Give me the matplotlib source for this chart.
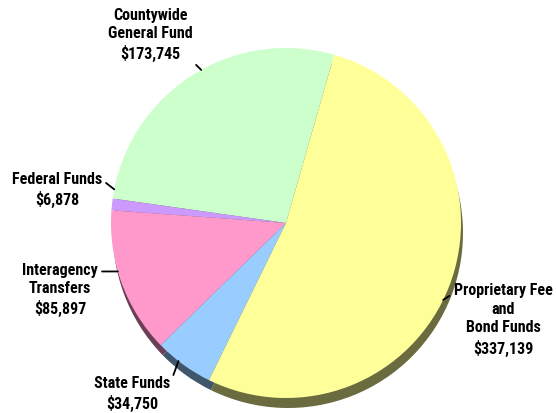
import numpy as np
import matplotlib
matplotlib.use('Agg')
import matplotlib.pyplot as plt
from matplotlib.colors import to_rgb

# Funding sources (in thousands), counter-clockwise from the top
sources = ['Countywide\nGeneral Fund', 'Federal Funds', 'Interagency\nTransfers',
           'State Funds', 'Proprietary Fee\nand\nBond Funds']
amounts = [173745, 6878, 85897, 34750, 337139]
colors = ['#ccffcc', '#cc99ff', '#ff99cc', '#99ccff', '#ffff99']

# label placement in pixels (x, y from top), where the leader leaves the text,
# and a small angle nudge (deg) of where it touches the pie
label_pos = [(150, 35), (57, 190), (60, 290), (132, 394), (503, 320)]
label_rel = [(0.97, 0.05), (1, 0.75), (1, 0.82), (1, 0.75), (0, 0.85)]
label_nudge = [-4, -5, -4, -2, -5]

W, H = 557, 414
fig = plt.figure(figsize=(W / 100, H / 100), dpi=100)
ax = fig.add_axes([0, 0, 1, 1])

cx, cy, r = 286, H - 224, 175
start = 74

# darker copy underneath gives the thick edge / shadow
dark = [tuple(c * 0.42 for c in to_rgb(col)) for col in colors]
ax.pie(amounts, colors=dark, startangle=start, counterclock=True,
       center=(cx + 2, cy - 10), radius=r, frame=True,
       wedgeprops=dict(linewidth=0))
wedges, _ = ax.pie(amounts, colors=colors, startangle=start, counterclock=True,
                   center=(cx, cy), radius=r, frame=True,
                   wedgeprops=dict(linewidth=0))
ax.set_xlim(0, W)
ax.set_ylim(0, H)
ax.set_aspect('equal')
ax.axis('off')

for w, name, amt, (lx, ly), rel, nudge in zip(wedges, sources, amounts,
                                               label_pos, label_rel, label_nudge):
    mid = np.deg2rad((w.theta1 + w.theta2) / 2 + nudge)
    px = cx + r * np.cos(mid)
    py = cy + r * np.sin(mid)
    ax.annotate('{}\n${:,}'.format(name, amt), xy=(px, py), xytext=(lx, H - ly),
                ha='center', va='center', fontsize=11.5, fontweight='bold',
                family=['Roboto Condensed', 'DejaVu Sans'], linespacing=1.3,
                arrowprops=dict(arrowstyle='-', color='black', lw=1.3,
                                relpos=rel, shrinkA=1, shrinkB=0))

fig.savefig('out.png', dpi=100)
